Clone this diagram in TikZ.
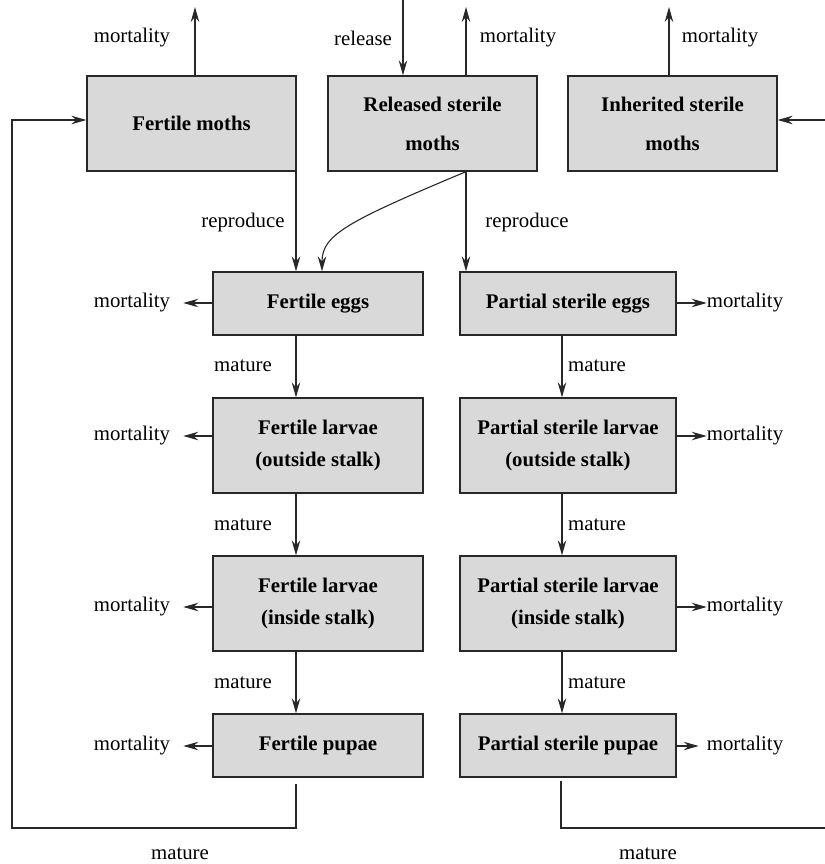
\documentclass[tikz,border=0pt]{standalone}
\usepackage{fontspec}
\setmainfont{Liberation Serif}
\usetikzlibrary{arrows.meta}
\definecolor{boxgray}{RGB}{217,217,217}
\definecolor{linegray}{RGB}{40,40,40}
\begin{document}
\begin{tikzpicture}[x=1pt,y=-1pt,
  box/.style={draw=linegray, line width=1.3pt, fill=boxgray, inner sep=0pt, align=center,
              font=\fontsize{20.8}{25}\selectfont\bfseries},
  wbox/.style={box, minimum width=210pt},
  pbox/.style={box, minimum width=216pt},
  tall/.style={minimum height=95pt},
  short/.style={minimum height=63pt},
  lbl/.style={inner sep=0pt, font=\fontsize{20.8}{25}\selectfont},
  arr/.style={line width=1.1pt, draw=linegray, -{Stealth[length=15pt,width=8.5pt,inset=5pt]}},
  ln/.style={line width=1.1pt, draw=linegray}]
\useasboundingbox (0,0) rectangle (824,864);

% boxes
\node[box, minimum width=209pt, tall] (FM) at (191.5,123.5) {Fertile moths};
\node[box, minimum width=209pt, tall] (RS) at (432.5,123.5) {Released sterile\\[14pt]moths};
\node[box, minimum width=209pt, tall] (IS) at (672.5,123.5) {Inherited sterile\\[14pt]moths};
\node[wbox, short] (FE)  at (318,303.5) {Fertile eggs};
\node[pbox, short] (PE)  at (568,303.5) {Partial sterile eggs};
\node[wbox, tall]  (FLo) at (318,445.5) {Fertile larvae\\[7pt](outside stalk)};
\node[pbox, tall]  (PLo) at (568,445.5) {Partial sterile larvae\\[7pt](outside stalk)};
\node[wbox, tall]  (FLi) at (318,603.5) {Fertile larvae\\[7pt](inside stalk)};
\node[pbox, tall]  (PLi) at (568,603.5) {Partial sterile larvae\\[7pt](inside stalk)};
\node[wbox, short] (FP)  at (318,745.5) {Fertile pupae};
\node[pbox, short] (PP)  at (568,745.5) {Partial sterile pupae};

% labels
\node[lbl] (mFM) at (132,38) {mortality};
\node[lbl] (rel) at (363,38) {release};
\node[lbl] (mRS) at (518,38) {mortality};
\node[lbl] (mIS) at (720,38) {mortality};
\node[lbl] (repL) at (243,222) {reproduce};
\node[lbl] (repR) at (527,222) {reproduce};
\node[lbl] (matL1) at (243,366) {mature};
\node[lbl] (matR1) at (597,366) {mature};
\node[lbl] (matL2) at (243,525) {mature};
\node[lbl] (matR2) at (597,525) {mature};
\node[lbl] (matL3) at (243,683) {mature};
\node[lbl] (matR3) at (597,683) {mature};
\node[lbl] (matB1) at (180,854) {mature};
\node[lbl] (matB2) at (648,854) {mature};

\node[lbl] (mFE)  at (132,303) {mortality};
\node[lbl] (mFLo) at (132,436) {mortality};
\node[lbl] (mFLi) at (132,607) {mortality};
\node[lbl] (mFP)  at (132,746) {mortality};
\node[lbl] (mPE)  at (745,303) {mortality};
\node[lbl] (mPLo) at (745,436) {mortality};
\node[lbl] (mPLi) at (745,607) {mortality};
\node[lbl] (mPP)  at (745,746) {mortality};

% coordinates
\coordinate (tFM) at (195,7);
\coordinate (tRS) at (466,7);
\coordinate (tIS) at (669,7);
\coordinate (relIn) at (403,0);
\coordinate (isIn) at (830,120);
\coordinate (cL) at (296,0);
\coordinate (cR) at (562,0);
\coordinate (fbL) at (12,828);
\coordinate (fbLs) at (296,784);
\coordinate (fbR) at (830,828);
\coordinate (fbRs) at (561,781);
\coordinate (fmIn) at (12,120);
\coordinate (curveEnd) at (322,0);

% top arrows
\draw[arr] (tFM |- FM.north) -- (tFM);
\draw[arr] (tRS |- RS.north) -- (tRS);
\draw[arr] (tIS |- IS.north) -- (tIS);
\draw[arr] (relIn) -- (relIn |- RS.north);
\draw[arr] (isIn) -- (isIn -| IS.east);

% reproduce
\draw[arr] (cL |- FM.south) -- (cL |- FE.north);
\draw[arr] (tRS |- RS.south) -- (tRS |- PE.north);
\draw[arr] (tRS |- RS.south) .. controls (346,222) and (322,235) .. (curveEnd |- FE.north);

% mature
\draw[arr] (cL |- FE.south) -- (cL |- FLo.north);
\draw[arr] (cL |- FLo.south) -- (cL |- FLi.north);
\draw[arr] (cL |- FLi.south) -- (cL |- FP.north);
\draw[arr] (cR |- PE.south) -- (cR |- PLo.north);
\draw[arr] (cR |- PLo.south) -- (cR |- PLi.north);
\draw[arr] (cR |- PLi.south) -- (cR |- PP.north);

% mortality side arrows
\draw[arr, shorten >=13pt] (FE.west |- mFE) -- (mFE.east);
\draw[arr, shorten >=13pt] (FLo.west |- mFLo) -- (mFLo.east);
\draw[arr, shorten >=13pt] (FLi.west |- mFLi) -- (mFLi.east);
\draw[arr, shorten >=13pt] (FP.west |- mFP) -- (mFP.east);
\draw[arr] (PE.east |- mPE) -- (mPE.west);
\draw[arr] (PLo.east |- mPLo) -- (mPLo.west);
\draw[arr] (PLi.east |- mPLi) -- (mPLi.west);
\draw[arr, shorten >=8pt] (PP.east |- mPP) -- (mPP.west);

% feedback loops
\draw[arr] (fbLs) -- (fbLs |- fbL) -- (fbL) -- (fmIn) -- (fmIn -| FM.west);
\draw[ln] (fbRs) -- (fbRs |- fbR) -- (fbR) -- (isIn);
\end{tikzpicture}
\end{document}
